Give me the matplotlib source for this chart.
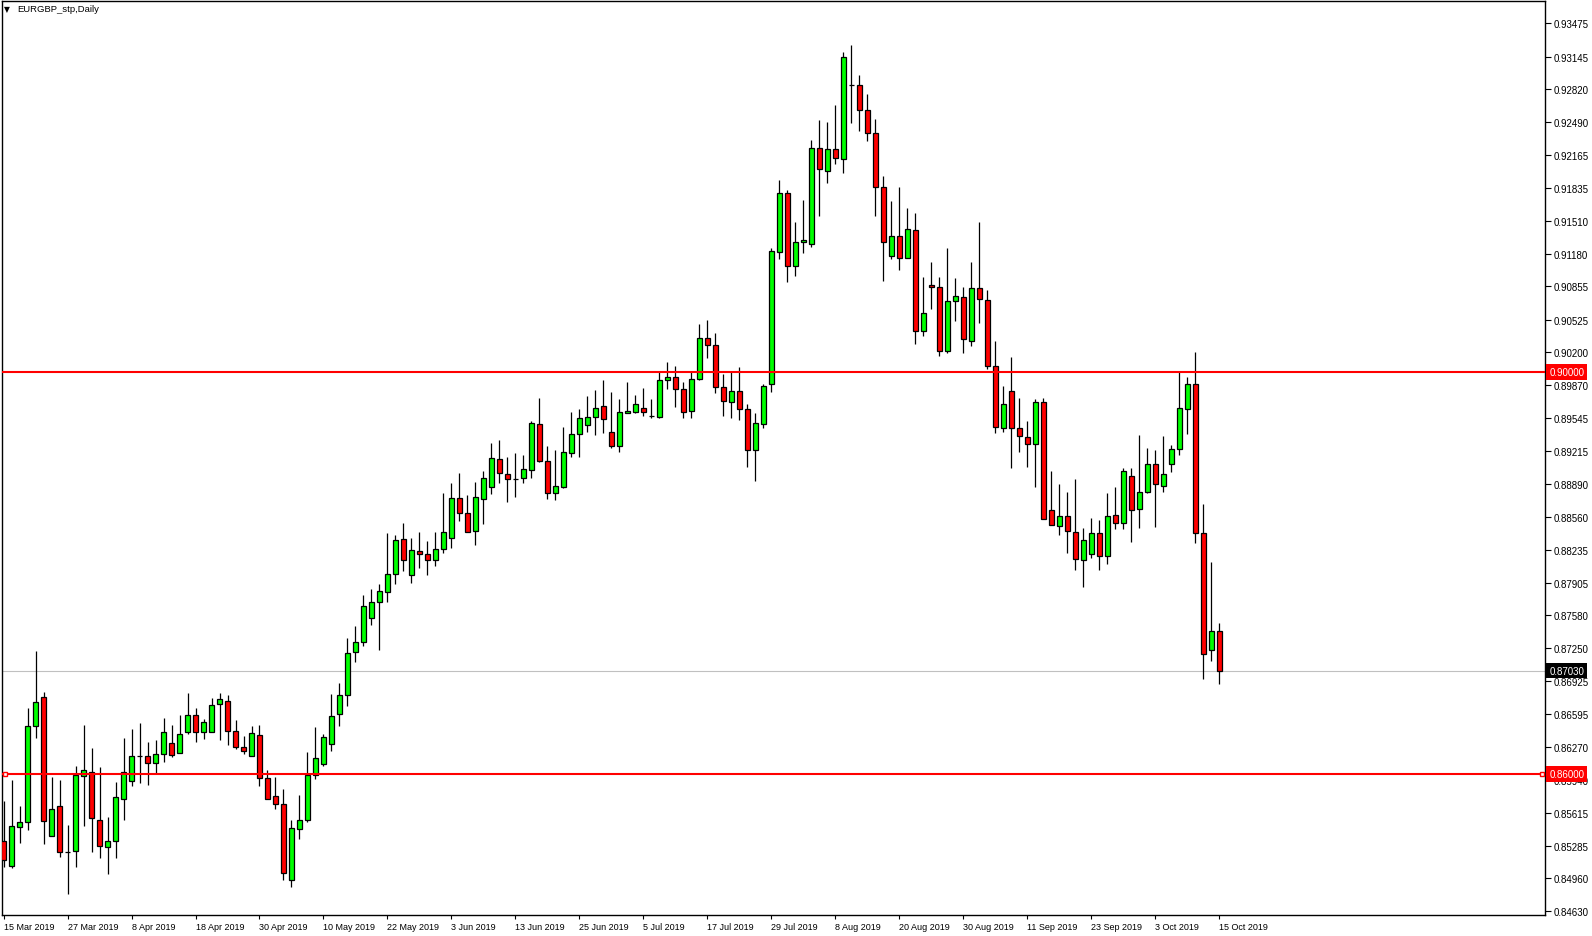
import matplotlib.pyplot as plt
import numpy as np

# EURGBP daily candles, 15 Mar 2019 .. 15 Oct 2019
opens = [0.85329, 0.85080, 0.85468, 0.85518, 0.86475, 0.86764, 0.85379, 0.85678, 0.85226, 0.85229,
         0.85977, 0.86023, 0.85545, 0.85269, 0.85329, 0.85748, 0.85927, 0.86183, 0.86176, 0.86106,
         0.86196, 0.86312, 0.86213, 0.86422, 0.86591, 0.86422, 0.86422, 0.86701, 0.86731, 0.86432,
         0.86272, 0.86183, 0.86392, 0.85963, 0.85784, 0.85704, 0.84947, 0.85455, 0.85545, 0.85993,
         0.86103, 0.86296, 0.86595, 0.86784, 0.87213, 0.87312, 0.87551, 0.87711, 0.87811, 0.87990,
         0.88339, 0.87980, 0.88219, 0.88189, 0.88130, 0.88239, 0.88349, 0.88750, 0.88598, 0.88422,
         0.88734, 0.88855, 0.89133, 0.88984, 0.88941, 0.88944, 0.89024, 0.89482, 0.89114, 0.88795,
         0.88862, 0.89193, 0.89382, 0.89472, 0.89552, 0.89661, 0.89402, 0.89263, 0.89598, 0.89602,
         0.89641, 0.89568, 0.89558, 0.89920, 0.89950, 0.89831, 0.89612, 0.89930, 0.90339, 0.90269,
         0.89851, 0.89701, 0.89811, 0.89631, 0.89223, 0.89482, 0.89880, 0.91195, 0.91783, 0.91056,
         0.91295, 0.91275, 0.92231, 0.92002, 0.92221, 0.92121, 0.92859, 0.92859, 0.92610, 0.92380,
         0.91843, 0.91155, 0.91355, 0.91135, 0.91414, 0.90408, 0.90867, 0.90847, 0.90209, 0.90707,
         0.90747, 0.90309, 0.90837, 0.90717, 0.90060, 0.89442, 0.89811, 0.89442, 0.89353, 0.89283,
         0.89701, 0.88626, 0.88466, 0.88566, 0.88406, 0.88128, 0.88187, 0.88396, 0.88167, 0.88576,
         0.88496, 0.88964, 0.88635, 0.88805, 0.89084, 0.88865, 0.89084, 0.89233, 0.89631, 0.89880,
         0.88396, 0.87231, 0.87420]
highs = [0.85728, 0.85940, 0.85681, 0.86658, 0.87223, 0.86817, 0.85970, 0.85940, 0.85492, 0.86080,
         0.86485, 0.86259, 0.86066, 0.85568, 0.85917, 0.86359, 0.86449, 0.86508, 0.86319, 0.86339,
         0.86558, 0.86485, 0.86585, 0.86804, 0.86654, 0.86551, 0.86754, 0.86804, 0.86784, 0.86535,
         0.86382, 0.86482, 0.86492, 0.86043, 0.85967, 0.85854, 0.85545, 0.85794, 0.86223, 0.86472,
         0.86402, 0.86794, 0.86904, 0.87352, 0.87475, 0.87781, 0.87841, 0.87890, 0.88402, 0.88382,
         0.88502, 0.88352, 0.88412, 0.88322, 0.88412, 0.88800, 0.88900, 0.89000, 0.88780, 0.88904,
         0.89013, 0.89296, 0.89326, 0.89153, 0.89193, 0.89173, 0.89512, 0.89741, 0.89263, 0.89226,
         0.89452, 0.89602, 0.89631, 0.89761, 0.89821, 0.89920, 0.89801, 0.89731, 0.89900, 0.89771,
         0.89844, 0.89734, 0.90000, 0.90103, 0.90063, 0.89900, 0.90000, 0.90481, 0.90518, 0.90388,
         0.89980, 0.90010, 0.90050, 0.89681, 0.89592, 0.89880, 0.91235, 0.91912, 0.91813, 0.91497,
         0.91716, 0.92311, 0.92513, 0.92493, 0.92663, 0.93187, 0.93260, 0.92961, 0.92772, 0.92520,
         0.91952, 0.91703, 0.91843, 0.91633, 0.91584, 0.90946, 0.91096, 0.90946, 0.91235, 0.90936,
         0.90847, 0.91099, 0.91494, 0.90817, 0.90309, 0.89861, 0.90149, 0.89741, 0.89512, 0.89731,
         0.89741, 0.89014, 0.88884, 0.88805, 0.88934, 0.88446, 0.88546, 0.88526, 0.88795, 0.88855,
         0.89044, 0.89044, 0.89373, 0.89246, 0.89223, 0.89363, 0.89273, 0.90000, 0.89950, 0.90199,
         0.88685, 0.88108, 0.87500]
lows = [0.85070, 0.85066, 0.85316, 0.85445, 0.86362, 0.85306, 0.85379, 0.85176, 0.84804, 0.85076,
        0.85485, 0.85226, 0.85166, 0.85007, 0.85166, 0.85542, 0.85884, 0.85910, 0.85894, 0.86007,
        0.86123, 0.86173, 0.86213, 0.86399, 0.86322, 0.86352, 0.86422, 0.86342, 0.86289, 0.86252,
        0.86199, 0.86183, 0.85880, 0.85754, 0.85654, 0.84947, 0.84877, 0.85355, 0.85525, 0.85953,
        0.86083, 0.86226, 0.86482, 0.86674, 0.87113, 0.87272, 0.87488, 0.87239, 0.87711, 0.87890,
        0.88020, 0.87900, 0.88050, 0.87977, 0.88070, 0.88203, 0.88249, 0.88515, 0.88409, 0.88282,
        0.88492, 0.88792, 0.88901, 0.88712, 0.88762, 0.88901, 0.88944, 0.89104, 0.88735, 0.88725,
        0.88845, 0.89153, 0.89153, 0.89402, 0.89373, 0.89392, 0.89243, 0.89203, 0.89592, 0.89592,
        0.89568, 0.89542, 0.89548, 0.89837, 0.89658, 0.89548, 0.89548, 0.89920, 0.90146, 0.89791,
        0.89562, 0.89548, 0.89522, 0.89054, 0.88914, 0.89442, 0.89801, 0.91125, 0.90896, 0.90956,
        0.91185, 0.91245, 0.91560, 0.91889, 0.92072, 0.91989, 0.92480, 0.92407, 0.92301, 0.91554,
        0.90906, 0.91125, 0.91016, 0.91135, 0.90279, 0.90359, 0.90627, 0.90159, 0.90189, 0.90515,
        0.90196, 0.90259, 0.90495, 0.90030, 0.89392, 0.89402, 0.89044, 0.89203, 0.89054, 0.88855,
        0.88536, 0.88476, 0.88377, 0.88197, 0.88028, 0.87859, 0.88147, 0.88028, 0.88088, 0.88436,
        0.88436, 0.88307, 0.88453, 0.88795, 0.88463, 0.88805, 0.89004, 0.89173, 0.89382, 0.88297,
        0.86942, 0.87122, 0.86892]
closes = [0.85140, 0.85485, 0.85518, 0.86475, 0.86714, 0.85528, 0.85648, 0.85219, 0.85226, 0.85987,
          0.86043, 0.85558, 0.85279, 0.85329, 0.85767, 0.86017, 0.86176, 0.86183, 0.86106, 0.86196,
          0.86415, 0.86193, 0.86402, 0.86591, 0.86422, 0.86522, 0.86691, 0.86751, 0.86432, 0.86272,
          0.86233, 0.86412, 0.85963, 0.85754, 0.85704, 0.85017, 0.85465, 0.85545, 0.85993, 0.86163,
          0.86372, 0.86575, 0.86784, 0.87203, 0.87312, 0.87671, 0.87711, 0.87821, 0.87990, 0.88329,
          0.88130, 0.88229, 0.88189, 0.88130, 0.88239, 0.88409, 0.88750, 0.88598, 0.88409, 0.88754,
          0.88944, 0.89143, 0.88994, 0.88934, 0.88941, 0.89034, 0.89492, 0.89114, 0.88795, 0.88865,
          0.89203, 0.89382, 0.89542, 0.89552, 0.89641, 0.89532, 0.89263, 0.89602, 0.89612, 0.89681,
          0.89602, 0.89568, 0.89920, 0.89950, 0.89831, 0.89602, 0.89930, 0.90339, 0.90269, 0.89851,
          0.89711, 0.89811, 0.89631, 0.89223, 0.89492, 0.89861, 0.91205, 0.91783, 0.91056, 0.91295,
          0.91315, 0.92231, 0.92022, 0.92221, 0.92131, 0.93137, 0.92859, 0.92610, 0.92380, 0.91843,
          0.91295, 0.91355, 0.91135, 0.91424, 0.90408, 0.90588, 0.90847, 0.90209, 0.90707, 0.90757,
          0.90329, 0.90837, 0.90727, 0.90060, 0.89452, 0.89681, 0.89442, 0.89363, 0.89283, 0.89701,
          0.88536, 0.88476, 0.88566, 0.88416, 0.88137, 0.88327, 0.88396, 0.88167, 0.88566, 0.88496,
          0.89014, 0.88626, 0.88805, 0.89084, 0.88884, 0.88984, 0.89233, 0.89641, 0.89880, 0.88396,
          0.87191, 0.87420, 0.87030]

dates = ['15 Mar 2019', '27 Mar 2019', '8 Apr 2019', '18 Apr 2019', '30 Apr 2019', '10 May 2019',
         '22 May 2019', '3 Jun 2019', '13 Jun 2019', '25 Jun 2019', '5 Jul 2019', '17 Jul 2019',
         '29 Jul 2019', '8 Aug 2019', '20 Aug 2019', '30 Aug 2019', '11 Sep 2019', '23 Sep 2019',
         '3 Oct 2019', '15 Oct 2019']
date_step = 8

price_ticks = [0.93475, 0.93145, 0.92820, 0.92490, 0.92165, 0.91835, 0.91510, 0.91180, 0.90855,
               0.90525, 0.90200, 0.89870, 0.89545, 0.89215, 0.88890, 0.88560, 0.88235, 0.87905,
               0.87580, 0.87250, 0.86925, 0.86595, 0.86270, 0.85940, 0.85615, 0.85285, 0.84960,
               0.84630]
levels = [0.90000, 0.86000]
last_price = 0.87030

plt.rcParams['font.family'] = ['Liberation Sans', 'DejaVu Sans']

W, H = 1592, 937
fig = plt.figure(figsize=(W / 100, H / 100), dpi=100)
ax = fig.add_axes([2 / W, (H - 916) / H, 1543 / W, 914 / H])

x = np.arange(len(opens))
o = np.array(opens)
c = np.array(closes)
body_bottom = np.minimum(o, c)
body_height = np.abs(c - o)
colors = ['#00ff00' if cc > oo else '#ff0000' for oo, cc in zip(o, c)]

ax.vlines(x, lows, highs, color='black', linewidth=0.9, zorder=2)
ax.bar(x, body_height, width=0.6, bottom=body_bottom, color=colors,
       edgecolor='black', linewidth=0.9, zorder=3)

# horizontal levels
ax.axhline(last_price, color='#c0c0c0', linewidth=0.8, zorder=1)
for lv in levels:
    ax.axhline(lv, color='red', linewidth=1.5, zorder=4)
ax.plot([0.2, 192.3], [levels[1], levels[1]], 's', ms=3.5, mfc='white',
        mec='red', mew=1.0, zorder=5, clip_on=False)

ax.set_xlim(-0.19, 192.7)
ax.set_ylim(0.84595, 0.93698)

# price scale on the right
ax.yaxis.tick_right()
ax.set_yticks(price_ticks)
ax.set_yticklabels(['%.5f' % p for p in price_ticks])
ax.tick_params(axis='y', direction='out', length=4, width=0.8, labelsize=7, pad=2)

ax.set_xticks(x[::date_step])
ax.set_xticklabels(dates)
ax.tick_params(axis='x', direction='out', length=3, width=0.8, labelsize=6.5, pad=2)
for lab in ax.get_xticklabels():
    lab.set_horizontalalignment('left')

for s in ax.spines.values():
    s.set_linewidth(1.0)
    s.set_color('black')

ytr = ax.get_yaxis_transform()
for lv in levels:
    ax.text(1.0028, lv, '%.5f' % lv, transform=ytr, va='center', ha='left', fontsize=7,
            color='white', zorder=6,
            bbox=dict(boxstyle='square,pad=0.3', fc='red', ec='none'))
ax.text(1.0028, last_price, '%.5f' % last_price, transform=ytr, va='center', ha='left',
        fontsize=7, color='white', zorder=6,
        bbox=dict(boxstyle='square,pad=0.3', fc='black', ec='none'))

# chart caption
fig.text(4 / W, 1 - 10 / H, '\u25bc', fontsize=5.5, va='center', ha='left',
         family='DejaVu Sans')
fig.text(17 / W, 1 - 10 / H, 'EURGBP_stp,Daily', fontsize=6.8, va='center', ha='left')

fig.savefig('out.png', dpi=100)
